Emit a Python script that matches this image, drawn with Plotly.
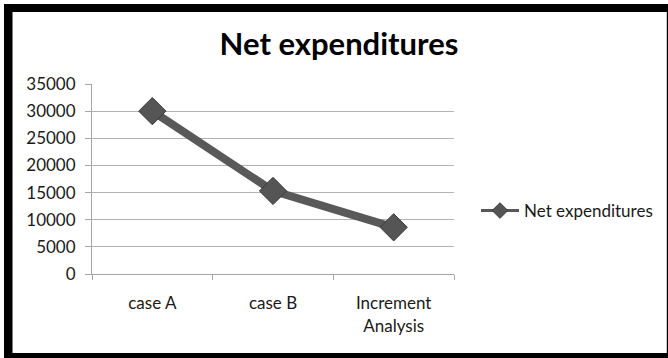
import plotly.graph_objects as go

categories = ["case A", "case B", "Increment<br>Analysis"]
net_expenditures = [30000, 15300, 8600]
series_name = "Net expenditures"
y_ticks = [0, 5000, 10000, 15000, 20000, 25000, 30000, 35000]

W, H = 668, 358
L, R, T, B = 92, 454, 84, 274  # plot area in pixels

def px(x):
    return (x - L) / (R - L)

def py(y):
    return (B - y) / (B - T)

fig = go.Figure()
fig.add_trace(go.Scatter(
    x=categories, y=net_expenditures, name=series_name,
    mode="lines+markers", showlegend=False,
    line=dict(color="#595959", width=8),
    marker=dict(symbol="diamond", size=21, color="#555555",
                line=dict(color="#3a3a3a", width=1)),
))
# legend entry (same series, drawn with the thinner legend styling)
fig.add_trace(go.Scatter(
    x=[None], y=[None], name=series_name,
    mode="lines+markers",
    line=dict(color="#595959", width=3),
    marker=dict(symbol="diamond", size=12, color="#555555",
                line=dict(color="#3a3a3a", width=1)),
))

shapes = []
def rect(x0, y0, x1, y1):
    shapes.append(dict(type="rect", xref="paper", yref="paper",
                       x0=px(x0), x1=px(x1), y0=py(y1), y1=py(y0),
                       fillcolor="black", line=dict(width=0), layer="above"))

rect(4, 4, 12.5, 358)      # left
rect(4, 4, 668, 12)        # top
rect(4, 353, 668, 358)     # bottom
rect(666.8, 4, 668, 358)   # right

fig.update_layout(
    width=W, height=H,
    margin=dict(l=L, r=W - R, t=T, b=H - B, autoexpand=False),
    paper_bgcolor="white", plot_bgcolor="white",
    font=dict(family="Lato, 'Open Sans', sans-serif", size=17, color="#1a1a1a"),
    title=dict(text="Net expenditures", x=339 / W, xanchor="center",
               y=1 - 44 / H, yanchor="middle", yref="container",
               font=dict(family="Lato, sans-serif", size=31, weight=700, color="black")),
    showlegend=True,
    legend=dict(x=px(476), y=py(211), xanchor="left", yanchor="middle",
                bgcolor="rgba(0,0,0,0)", font=dict(size=17),
                itemwidth=38),
    shapes=shapes,
)
fig.update_xaxes(
    type="category", range=[-0.5, 2.5], showgrid=False,
    showline=True, linecolor="#a6a6a6", linewidth=1,
    ticks="outside", tickson="boundaries", ticklen=5, tickcolor="#a6a6a6",
    tickfont=dict(size=17), ticklabelstandoff=14, fixedrange=True,
)
fig.update_yaxes(
    range=[0, 35000], tickvals=y_ticks, ticktext=[str(v) for v in y_ticks],
    showgrid=True, gridcolor="#b3b3b3", gridwidth=1,
    showline=True, linecolor="#a6a6a6", linewidth=1,
    ticks="outside", ticklen=6, tickcolor="#a6a6a6",
    tickfont=dict(size=17), ticklabelstandoff=6, zeroline=False, fixedrange=True,
)

fig.write_html("out.html")
